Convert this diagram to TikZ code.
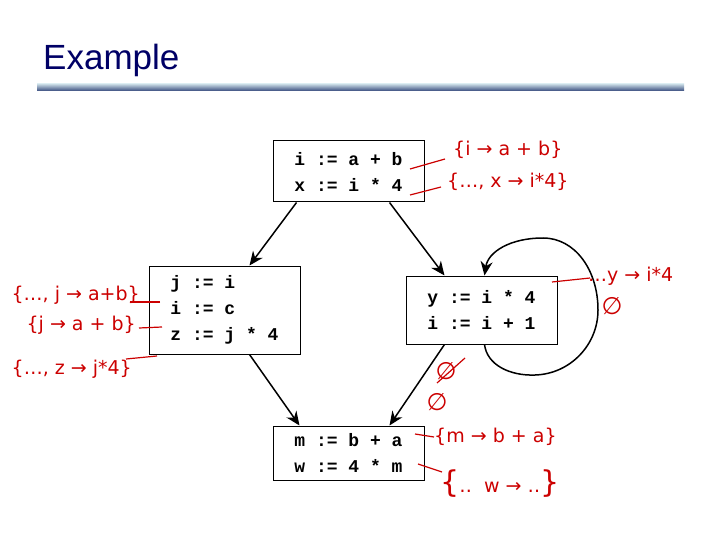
\documentclass[tikz,border=0pt]{standalone}
\usepackage{fontspec}
\setmainfont{Liberation Sans}
\newfontfamily\codefont{Liberation Mono}
\newfontfamily\handfont{DejaVu Sans}
\usetikzlibrary{arrows.meta,calc}
\definecolor{titlenavy}{RGB}{0,0,102}
\definecolor{hand}{RGB}{204,0,0}
\definecolor{barlight}{RGB}{200,218,228}
\definecolor{bardark}{RGB}{55,75,125}
\newcommand{\bigbrace}[1]{{\fontsize{30}{30}\selectfont #1}}
\begin{document}
\begin{tikzpicture}[x=1pt,y=-1pt,
 codebox/.style={draw=black, line width=1pt, fill=white, align=left, font=\codefont\bfseries\fontsize{18}{26}\selectfont, inner sep=0pt},
 flow/.style={line width=1.5pt, -{Stealth[length=14pt,width=12pt]}},
 note/.style={text=hand, font=\handfont\fontsize{19}{22}\selectfont, inner sep=0pt},
 bignote/.style={note, font=\handfont\fontsize{24}{26}\selectfont},
 tick/.style={draw=hand, line width=1.2pt}]
\useasboundingbox (0,0) rectangle (720,540);
\fill[white] (0,0) rectangle (720,540);
\node[anchor=west, text=titlenavy, font=\fontsize{35}{40}\selectfont, inner sep=0pt] (title) at (43,60) {Example};
\shade[top color=barlight, bottom color=bardark] (37,84) rectangle (684,91);

% code boxes
\node[codebox, minimum width=151pt, minimum height=61pt] (b1) at (348.5,171.5) {i := a + b\\x := i * 4};
\node[codebox, minimum width=151pt, minimum height=88pt] (b2) at (224.5,310) {j := i\\i := c\\z := j * 4};
\node[codebox, minimum width=151pt, minimum height=68pt] (b3) at (481.5,310) {y := i * 4\\i := i + 1};
\node[codebox, minimum width=151pt, minimum height=54pt] (b4) at (348.5,453) {m := b + a\\w := 4 * m};

% flow edges
\draw[flow] ([xshift=24pt]b1.south west) -- ([xshift=101pt]b2.north west);
\draw[flow] ([xshift=117pt]b1.south west) -- ([xshift=39pt]b3.north west);
\draw[flow] ([xshift=101pt]b2.south west) -- ([xshift=27pt]b4.north west);
\draw[flow] ([xshift=39pt]b3.south west) -- ([xshift=117pt]b4.north west);
\draw[flow] ([xshift=79pt]b3.south west) .. controls (487,365) and (510,376) .. (535,375)
  .. controls (570,374) and (598,345) .. (598,310)
  .. controls (598,270) and (575,238) .. (543,238)
  .. controls (510,238) and (488,252) .. ([xshift=79pt]b3.north west);

% annotations
\node[note, anchor=west] (n1) at (453,150) {\{i → a + b\}};
\node[note, anchor=west] (n2) at (447,182) {\{…, x → i*4\}};
\node[note, anchor=east] (n3) at (140,295) {\{…, j → a+b\}};
\node[note, anchor=east] (n4) at (136,325) {\{j → a + b\}};
\node[note, anchor=east] (n5) at (132,369) {\{…, z → j*4\}};
\node[note, anchor=west] (n6) at (588,276) {…y → i*4};
\node[bignote] (n7) at (612,306) {∅};
\node[bignote] (n8) at (446,371) {∅};
\node[bignote] (n9) at (437,402) {∅};
\node[note, anchor=west] (n10) at (434,437) {\{m → b + a\}};
\node[note, anchor=west] (n11) at (440,484) {\bigbrace{\{}‥ \ w → ‥\bigbrace{\}}};

\coordinate (c1) at (410,169);
\coordinate (c2) at (410,195);
\coordinate (c3) at (160,302);
\coordinate (c4) at (162,327);
\coordinate (c5) at (157,356);
\coordinate (c6) at (552,282);
\coordinate (c7) at (415,434);
\coordinate (c8) at (418,464);
\draw[tick] (c1) -- ([shift={(-8pt,-9pt)}]n1.west);
\draw[tick] (c2) -- ([shift={(-6pt,-5pt)}]n2.west);
\draw[tick] (c3) -- ([shift={(-10pt,-7pt)}]n3.east);
\draw[tick] (c4) -- ([shift={(3pt,-3pt)}]n4.east);
\draw[tick] (c5) -- ([shift={(-6pt,10pt)}]n5.east);
\draw[tick] (c6) -- ([shift={(2pt,-2pt)}]n6.west);
\draw[tick] (c7) -- (n10.west);
\draw[tick] (c8) -- ([shift={(2pt,12pt)}]n11.west);
\draw[tick] ([shift={(-9pt,-12pt)}]n8.center) -- ([shift={(19pt,13pt)}]n8.center);
\end{tikzpicture}
\end{document}
